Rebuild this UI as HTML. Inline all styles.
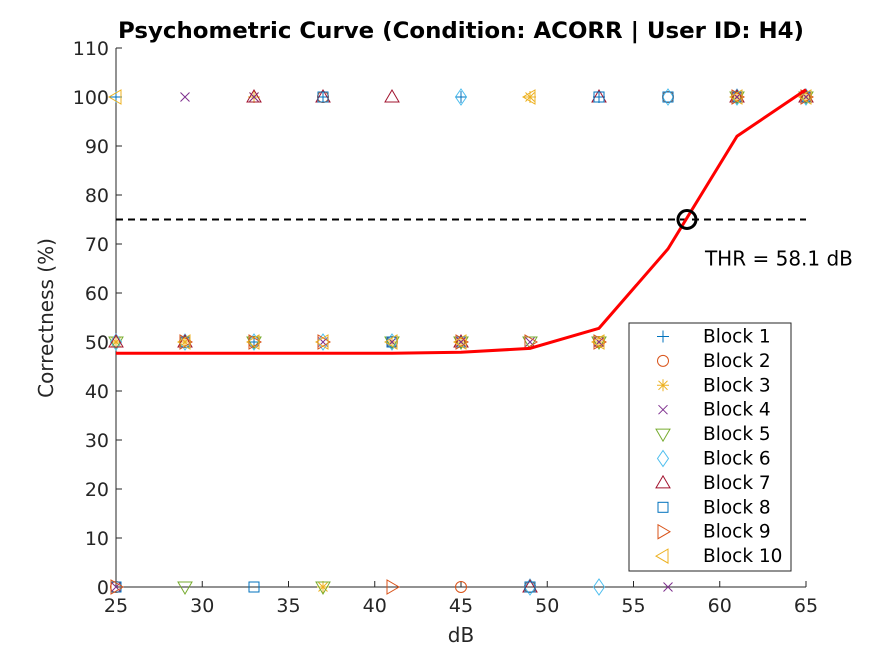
<!DOCTYPE html>
<html><head><meta charset="utf-8"><style>
body{margin:0;background:#fff;}
svg text{font-family:"DejaVu Sans","Liberation Sans",sans-serif;}
</style></head><body>
<svg id="chart" width="891" height="659" xmlns="http://www.w3.org/2000/svg">
<rect x="0" y="0" width="891" height="659" fill="#fff"/>
<text x="461" y="38" text-anchor="middle" font-size="22.5" font-weight="bold" fill="#000" textLength="686" lengthAdjust="spacingAndGlyphs">Psychometric Curve (Condition: ACORR | User ID: H4)</text>
<g id="axes"></g>
<g id="marks"></g>
</svg>
<script>
const xTicks=[25,30,35,40,45,50,55,60,65];
const yTicks=[0,10,20,30,40,50,60,70,80,90,100,110];
const blocks=["Block 1","Block 2","Block 3","Block 4","Block 5","Block 6","Block 7","Block 8","Block 9","Block 10"];
const levels=[25,29,33,37,41,45,49,53,57,61,65];
const at100=[[10,1],[4],[7,4,3],[8,7,1,2],[7],[6,1],[10,3,1],[8,1,7],[6,8,2],[1,2,3,4,5,6,7,8,9,10],[1,2,3,4,5,6,7,8,9,10]];
const at0=[[2,9,8,4],[5],[8,3],[5,3],[9],[2,1],[7,6,8,2],[6],[4],[],[]];
const fitX=[25,29,33,37,41,45,49,53,57,61,65];
const fitY=[47.7,47.7,47.7,47.7,47.7,47.9,48.7,52.8,69,92,101.5];
const thrX=58.1, thrY=75;
const colors=["#0072BD","#D95319","#EDB120","#7E2F8E","#77AC30","#4DBEEE","#A2142F","#0072BD","#D95319","#EDB120"];
const shapes=["plus","circle","star","x","tdown","diamond","tup","square","tright","tleft"];

const X0=116,X1=806,Y0=587,Y1=48;
const sx=v=>X0+(v-25)/40*(X1-X0);
const sy=v=>Y0-(v/110)*(Y0-Y1);
const NS="http://www.w3.org/2000/svg";
const axes=document.getElementById('axes'), marks=document.getElementById('marks');
function mk(tag,attrs,parent){const e=document.createElementNS(NS,tag);for(const k in attrs)e.setAttribute(k,attrs[k]);parent.appendChild(e);return e;}

let a=mk('line',{x1:X0,y1:Y1,x2:X0,y2:Y0,stroke:'#262626'},axes);


a=mk('line',{x1:X0,y1:Y0,x2:X1,y2:Y0,stroke:'#262626'},axes);


xTicks.forEach(t=>{
  mk('line',{x1:sx(t),y1:Y0,x2:sx(t),y2:Y0-6,stroke:'#262626'},axes);
  const tx=mk('text',{x:sx(t),y:Y0+25,'text-anchor':'middle','font-size':19,fill:'#262626'},axes);
  tx.textContent=t;
  
  
});
yTicks.forEach(t=>{
  mk('line',{x1:X0,y1:sy(t),x2:X0+6,y2:sy(t),stroke:'#262626'},axes);
  const tx=mk('text',{x:X0-7,y:sy(t)+7,'text-anchor':'end','font-size':19,fill:'#262626'},axes);
  tx.textContent=t;
  
  
});
let lab=mk('text',{x:461,y:642,'text-anchor':'middle','font-size':20,fill:'#262626'},axes);
lab.textContent='dB';


lab=mk('text',{x:53,y:318,'text-anchor':'middle','font-size':20,fill:'#262626',transform:'rotate(-90 53 318)'},axes);
lab.textContent='Correctness (%)';



function marker(shape,cx,cy,col,parent){
  const g=mk('g',{fill:'none',stroke:col,'stroke-width':1},parent);
  const r=6;
  if(shape==='plus'){mk('path',{d:`M${cx-r} ${cy}H${cx+r}M${cx} ${cy-r}V${cy+r}`},g);}
  else if(shape==='circle'){mk('circle',{cx,cy,r:5.5},g);}
  else if(shape==='star'){mk('path',{d:`M${cx-r} ${cy}H${cx+r}M${cx} ${cy-r}V${cy+r}M${cx-4.5} ${cy-4.5}L${cx+4.5} ${cy+4.5}M${cx-4.5} ${cy+4.5}L${cx+4.5} ${cy-4.5}`},g);}
  else if(shape==='x'){mk('path',{d:`M${cx-4.5} ${cy-4.5}L${cx+4.5} ${cy+4.5}M${cx-4.5} ${cy+4.5}L${cx+4.5} ${cy-4.5}`},g);}
  else if(shape==='tdown'){mk('path',{d:`M${cx-7} ${cy-5}H${cx+7}L${cx} ${cy+7}Z`},g);}
  else if(shape==='tup'){mk('path',{d:`M${cx-7} ${cy+5}H${cx+7}L${cx} ${cy-7}Z`},g);}
  else if(shape==='diamond'){mk('path',{d:`M${cx} ${cy-8}L${cx+5.5} ${cy}L${cx} ${cy+8}L${cx-5.5} ${cy}Z`},g);}
  else if(shape==='square'){mk('rect',{x:cx-5,y:cy-5,width:10,height:10},g);}
  else if(shape==='tright'){mk('path',{d:`M${cx-5} ${cy-7}V${cy+7}L${cx+7} ${cy}Z`},g);}
  else if(shape==='tleft'){mk('path',{d:`M${cx+5} ${cy-7}V${cy+7}L${cx-7} ${cy}Z`},g);}
  return g;
}

levels.forEach((lv,i)=>{
  for(let b=1;b<=10;b++){
    let y=50;
    if(at100[i].includes(b))y=100; else if(at0[i].includes(b))y=0;
    const m=marker(shapes[b-1],sx(lv),sy(y),colors[b-1],marks);
    
    
  }
});

let dl=mk('line',{x1:X0,y1:sy(thrY),x2:X1,y2:sy(thrY),stroke:'#000','stroke-width':2,'stroke-dasharray':'7 5'},marks);


let fit=mk('polyline',{points:fitX.map((x,i)=>sx(x)+','+sy(fitY[i])).join(' '),fill:'none',stroke:'#f00','stroke-width':3},marks);


let tc=mk('circle',{cx:sx(thrX),cy:sy(thrY),r:9,fill:'none',stroke:'#000','stroke-width':3},marks);


let tt=mk('text',{x:sx(thrX)+18,y:sy(thrY)+46,'font-size':20,fill:'#000'},marks);
tt.textContent='THR = '+thrX.toFixed(1)+' dB';



const lg=mk('g',{},marks);


mk('rect',{x:629,y:323,width:162,height:248,fill:'#fff',stroke:'#262626'},lg);
blocks.forEach((b,i)=>{
  const cy=336.5+i*24.4;
  const m=marker(shapes[i],663,cy,colors[i],lg);
  
  
  const t=mk('text',{x:703,y:cy+6,'font-size':18.5,fill:'#000'},lg);
  t.textContent=b;
  
  
});
</script>
</body></html>
